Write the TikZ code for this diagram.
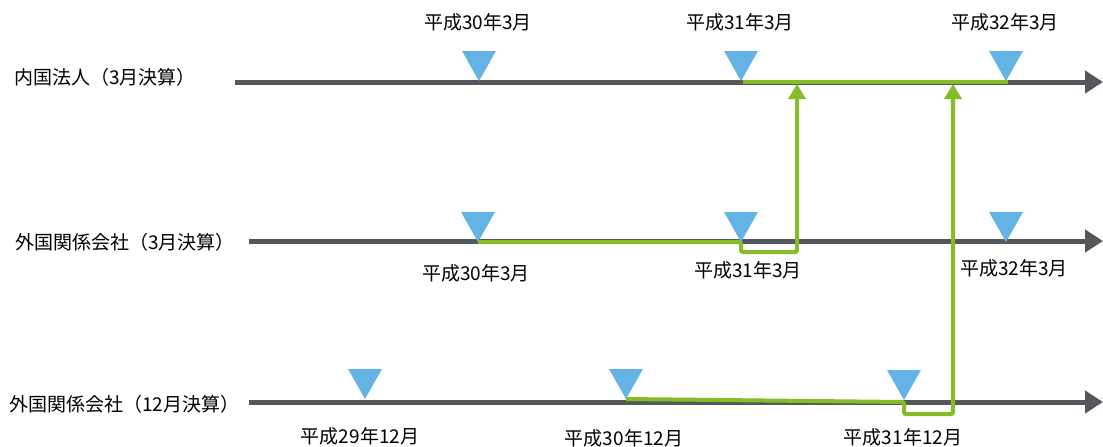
\documentclass[tikz,border=0pt]{standalone}
\usepackage{fontspec}
\setmainfont{Noto Sans CJK JP}
\usetikzlibrary{arrows.meta,calc}
\definecolor{axisgray}{HTML}{54585D}
\definecolor{markblue}{HTML}{63B4E4}
\definecolor{linkgreen}{HTML}{86BC25}
\tikzset{
  axis/.style={draw=axisgray,line width=5pt,-{Triangle[length=18pt,width=22pt]}},
  tri/.style={fill=markblue},
  link/.style={draw=linkgreen,line width=4pt,rounded corners=2pt},
  linkarrow/.style={link,-{Triangle[length=15pt,width=17pt]}},
  lbl/.style={font=\fontsize{19}{22}\selectfont,text=black,inner sep=0pt},
  side/.style={font=\fontsize{19}{22}\selectfont,text=black,inner sep=0pt,anchor=west}
}
\begin{document}
\begin{tikzpicture}[x=1pt,y=-1pt]
\useasboundingbox (0,0) rectangle (1103,447);
% timelines
\coordinate (L1s) at (235,82);  \coordinate (L1e) at (1103,82);
\coordinate (L2s) at (249,241); \coordinate (L2e) at (1103,241);
\coordinate (L3s) at (249,402); \coordinate (L3e) at (1103,402);
\draw[axis] (L1s) -- (L1e);
\draw[axis] (L2s) -- (L2e);
\draw[axis] (L3s) -- (L3e);
% side labels
\node[side] (n1) at (14,77) {内国法人（3月決算）};
\node[side] (n2) at (15,242) {外国関係会社（3月決算）};
\node[side] (n3) at (9,404) {外国関係会社（12月決算）};
% triangle tips
\coordinate (a1) at (479,81); \coordinate (a2) at (741,81); \coordinate (a3) at (1006,81);
\coordinate (b1) at (478,242); \coordinate (b2) at (741,242); \coordinate (b3) at (1006,242);
\coordinate (c1) at (365,399); \coordinate (c2) at (626,399); \coordinate (c3) at (904,400);
% green links
\coordinate (g1s) at (743,82); \coordinate (g1e) at (1008,82);
\draw[link] (g1s) -- (g1e);
\coordinate (k2a) at (741,252); \coordinate (k2b) at (797,252); \coordinate (k2t) at (797,84);
\draw[linkarrow] (b1) -- (b2) -- (k2a) -- (k2b) -- (k2t);
\coordinate (k3s) at (904,402); \coordinate (k3a) at (904,414); \coordinate (k3b) at (953,414); \coordinate (k3t) at (953,84);
\draw[linkarrow] (c2) -- (k3s) -- (k3a) -- (k3b) -- (k3t);
% triangles
\foreach \t in {a1,a2,a3,b1,b2,b3,c1,c2,c3}{
  \fill[tri] (\t) -- ++(-17,-30) -- ++(34,0) -- cycle;
}
% date labels
\node[lbl] (d1) at (478,22) {平成30年3月};
\node[lbl] (d2) at (740,22) {平成31年3月};
\node[lbl] (d3) at (1005,22) {平成32年3月};
\node[lbl] (e1) at (476,273) {平成30年3月};
\node[lbl] (e2) at (748,270) {平成31年3月};
\node[lbl] (e3) at (1014,268) {平成32年3月};
\node[lbl] (f1) at (360,436) {平成29年12月};
\node[lbl] (f2) at (624,438) {平成30年12月};
\node[lbl] (f3) at (903,437) {平成31年12月};
\end{tikzpicture}
\end{document}
